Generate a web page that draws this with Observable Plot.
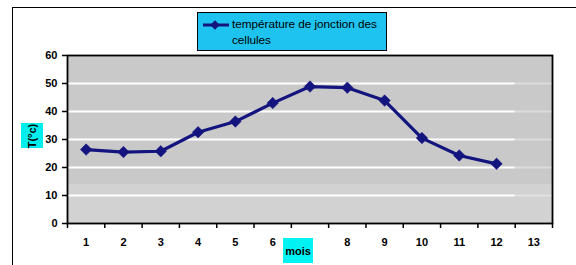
<!DOCTYPE html>
<html><head><meta charset="utf-8">
<script src="https://cdn.jsdelivr.net/npm/d3@7"></script>
<script src="https://cdn.jsdelivr.net/npm/@observablehq/plot@0.6"></script>
<style>
body{margin:0;background:#fff;font-family:"Liberation Sans",Arial,sans-serif;}
#wrap{position:relative;width:576px;height:265px;overflow:hidden;background:#fff;}
#outer{position:absolute;left:12px;top:7px;width:600px;height:300px;border-left:1.5px solid #000;border-top:1.5px solid #000;}
#legend{position:absolute;left:197px;top:12px;width:190px;height:39px;box-sizing:border-box;border:1.5px solid #000;background:#1ec3ef;}
#legend svg{position:absolute;left:3px;top:5px;}
#legend .txt{position:absolute;left:34px;top:4px;font-size:11.8px;line-height:15.5px;color:#000;letter-spacing:-0.05px;}
#ylab{position:absolute;left:21px;top:123px;width:22px;height:25px;background:#00eeee;}
#ylab span{position:absolute;left:50%;top:50%;transform:translate(-50%,-50%) rotate(-90deg);font-size:11px;font-weight:bold;white-space:nowrap;}
#xlab{position:absolute;left:283px;top:238px;width:30px;height:25px;background:#00f2f2;font-size:11px;font-weight:bold;text-align:center;line-height:27px;}
#plot{position:absolute;left:0;top:0;}
</style></head><body><div id="wrap"><div id="outer"></div><div id="plot"></div>
<div id="legend"><svg width="30" height="16"></svg><div class="txt"></div></div>
<div id="ylab"><span></span></div><div id="xlab"></div></div>
<script>
const months = [1,2,3,4,5,6,7,8,9,10,11,12];
const temperatures = [26.4,25.5,25.8,32.6,36.4,43.0,48.9,48.5,43.9,30.5,24.3,21.3];
const xTickLabels = [1,2,3,4,5,6,7,8,9,10,11,12,13];
const yTicks = [0,10,20,30,40,50,60];
const seriesName = "température de jonction des cellules";
const xTitle = "mois";
const yTitle = "T(°c)";

const navy = "#14147f";
const data = months.map((m,i)=>({month:m, temp:temperatures[i]}));
const boundaries = [xTickLabels[0]-0.5, ...xTickLabels.map(v=>v+0.5)];
const lastData = months[months.length-1]+0.5;

const chart = Plot.plot({
  width:576, height:265,
  marginLeft:67, marginRight:24, marginTop:55, marginBottom:42,
  x:{domain:[boundaries[0], boundaries[boundaries.length-1]]},
  y:{domain:[yTicks[0], yTicks[yTicks.length-1]]},
  style:{fontFamily:"'Liberation Sans', Arial, sans-serif", fontSize:"11px", fontWeight:"bold", color:"#000", background:"transparent"},
  marks:[
    Plot.frame({fill:"#c9c9c9"}),
    Plot.rectY([{y1:0,y2:14}], {x1:boundaries[0], x2:boundaries[boundaries.length-1], y1:"y1", y2:"y2", fill:"#d2d2d2"}),
    Plot.ruleY(yTicks.filter(v=>v>yTicks[0] && v<yTicks[yTicks.length-1]), {x1:boundaries[0], x2:lastData, stroke:"#fff", strokeWidth:2}),
    Plot.ruleY(yTicks.filter(v=>v>yTicks[0] && v<yTicks[yTicks.length-1]), {x1:lastData, x2:boundaries[boundaries.length-1], stroke:"#fff", strokeWidth:2, strokeOpacity:0.35}),
    Plot.line(data, {x:"month", y:"temp", stroke:navy, strokeWidth:3.2}),
    Plot.dot(data, {x:"month", y:"temp", symbol:"square", rotate:45, r:4.6, fill:navy, stroke:navy, strokeWidth:0.5}),
    Plot.frame({stroke:"#000", strokeWidth:1.8}),
    Plot.axisY({ticks:yTicks, tickSize:5, tickPadding:5, label:null, strokeWidth:1.5}),
    Plot.axisX({ticks:boundaries, tickSize:5, tickFormat:()=>"", label:null, strokeWidth:1.5}),
    Plot.axisX({ticks:xTickLabels, tickSize:0, tickPadding:15, label:null})
  ]
});
document.getElementById("plot").appendChild(chart);

// legend
const ls = d3.select("#legend svg");
ls.append("line").attr("x1",2).attr("x2",28).attr("y1",7).attr("y2",7).attr("stroke",navy).attr("stroke-width",3);
ls.append("path").attr("d",d3.symbol(d3.symbolSquare, 45)()).attr("transform","translate(14,7) rotate(45)").attr("fill",navy);
document.querySelector("#legend .txt").innerHTML = seriesName.replace(" cellules","<br>cellules");
document.querySelector("#ylab span").textContent = yTitle;
document.getElementById("xlab").textContent = xTitle;
</script></body></html>
